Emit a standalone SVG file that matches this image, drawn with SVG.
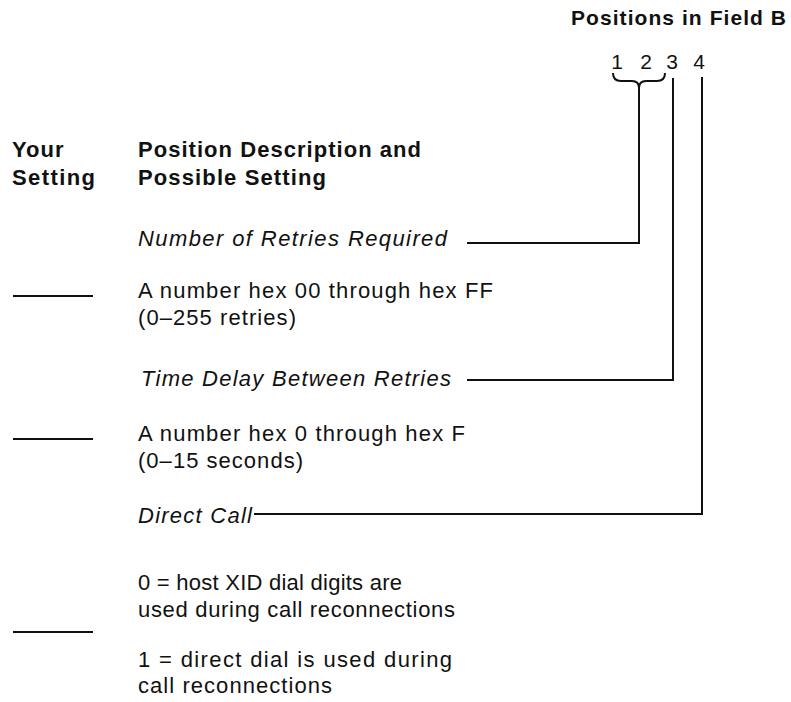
<svg xmlns="http://www.w3.org/2000/svg" width="791" height="702" viewBox="0 0 791 702">
<style>
text{font-family:"Liberation Sans",Arial,Helvetica,sans-serif;font-size:22px;fill:#111;letter-spacing:1px}
.b{font-weight:bold}
.i{font-style:italic}
.t{font-size:21px}
.d{font-size:21px;letter-spacing:0;text-anchor:middle}
.ln{fill:none;stroke:#111;stroke-width:2}
</style>
<rect width="791" height="702" fill="#fff"/>
<g id="title"><text class="b t" x="571" y="25" textLength="216">Positions in Field B</text></g>
<g id="digits">
<text class="d" x="617" y="69">1</text>
<text class="d" x="646" y="69">2</text>
<text class="d" x="672" y="69">3</text>
<text class="d" x="699" y="69">4</text>
</g>
<g id="headers">
<text class="b" x="12" y="157">Your</text>
<text class="b" x="12" y="185" textLength="84">Setting</text>
<text class="b" x="138" y="157" textLength="284">Position Description and</text>
<text class="b" x="138" y="185" textLength="189">Possible Setting</text>
</g>
<g id="retries">
<text class="i" x="138" y="246" textLength="310">Number of Retries Required</text>
<text x="138" y="298" textLength="356">A number hex 00 through hex FF</text>
<text x="138" y="325" textLength="159">(0–255 retries)</text>
</g>
<g id="delay">
<text class="i" x="141" y="386" textLength="311">Time Delay Between Retries</text>
<text x="138" y="441" textLength="328">A number hex 0 through hex F</text>
<text x="138" y="468" textLength="166">(0–15 seconds)</text>
</g>
<g id="direct">
<text class="i" x="138" y="523" textLength="115">Direct Call</text>
<text x="138" y="590" textLength="265">0 = host XID dial digits are</text>
<text x="138" y="617" textLength="318">used during call reconnections</text>
<text x="138" y="667" textLength="315">1 = direct dial is used during</text>
<text x="138" y="693" textLength="195">call reconnections</text>
</g>
<g id="settings" class="ln">
<line x1="13" y1="296" x2="93" y2="296"/>
<line x1="13" y1="439" x2="93" y2="439"/>
<line x1="13" y1="632" x2="93" y2="632"/>
</g>
<g id="connectors" class="ln">
<path d="M613,73 Q613,81 621,81 L632,81 Q639,81 639,88 M665,73 Q665,81 657,81 L646,81 Q639,81 639,88"/>
<path d="M639,86 V243 H467"/>
<path d="M673,78 V380 H467"/>
<path d="M702,77 V514 H254"/>
</g>
</svg>
